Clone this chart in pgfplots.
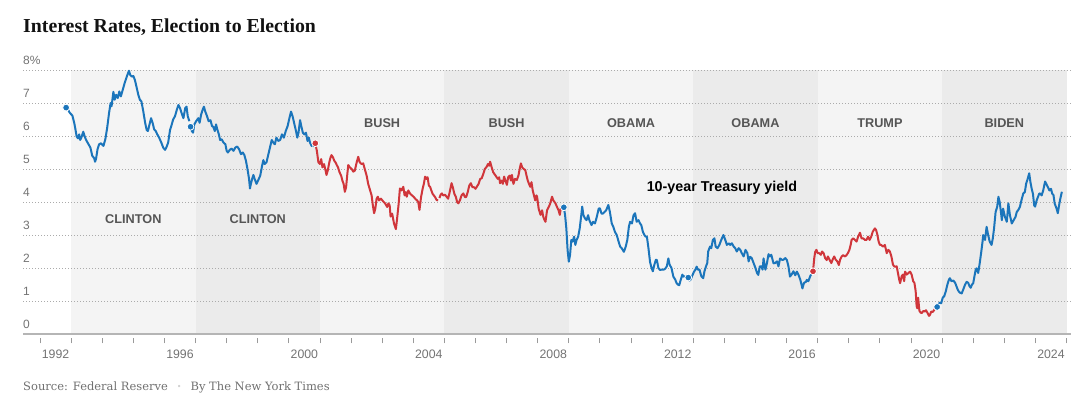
\documentclass[border=0pt]{standalone}
\usepackage{fontspec}
\setmainfont{Liberation Sans}
\newfontfamily\titlefont{Liberation Serif}
\newfontfamily\srcfont{DejaVu Serif}
\usepackage{pgfplots}
\pgfplotsset{compat=1.18}
\definecolor{dem}{HTML}{1B75BB}
\definecolor{rep}{HTML}{D0363B}
\definecolor{bandL}{HTML}{F4F4F4}
\definecolor{bandD}{HTML}{EBEBEB}
\definecolor{gridgray}{HTML}{ABABAB}
\definecolor{axisgray}{HTML}{B5B5B5}
\definecolor{tickgray}{HTML}{9A9A9A}
\definecolor{labgray}{HTML}{737373}
\definecolor{presgray}{HTML}{555555}
\definecolor{srcgray}{HTML}{707070}
\begin{document}
\begin{tikzpicture}
\begin{axis}[
  set layers,
  at={(23pt,65pt)}, anchor=south west,
  scale only axis, width=1048pt, height=264pt,
  xmin=1991.4535, xmax=2025.1443, ymin=0, ymax=8,
  axis lines*=left,
  x axis line style={draw=axisgray, line width=1.3pt},
  y axis line style={draw=none},
  tick align=inside,
  xtick={1992,...,2025}, xticklabel={\phantom{0}},
  extra x ticks={1992.5,1996.5,2000.5,2004.5,2008.5,2012.5,2016.5,2020.5,2024.5},
  extra x tick labels={1992,1996,2000,2004,2008,2012,2016,2020,2024},
  extra x tick style={major tick length=0pt, grid=none},
  major tick length=5pt,
  xtick style={draw=tickgray, line width=0.8pt, yshift=-9.5pt},
  xticklabel style={anchor=north, inner sep=0pt, yshift=-15.5pt, text=labgray, font=\fontsize{12.3}{14}\selectfont},
  ytick={0,...,8},
  yticklabels={0,1,2,3,4,5,6,7,8\%},
  ytick style={draw=none},
  yticklabel style={anchor=south west, inner sep=0pt, yshift=5pt, text=labgray, font=\fontsize{12}{14}\selectfont},
  /pgf/number format/assume math mode=true,
  ymajorgrids,
  major grid style={draw=gridgray, line width=0.9pt, dash pattern=on 0.9pt off 2.1pt},
  clip=false,
]
% term bands
\addplot[fill=bandL, draw=none, on layer=axis background] coordinates {(1993,8)(1997,8)} \closedcycle;
\addplot[fill=bandD, draw=none, on layer=axis background] coordinates {(1997,8)(2001,8)} \closedcycle;
\addplot[fill=bandL, draw=none, on layer=axis background] coordinates {(2001,8)(2005,8)} \closedcycle;
\addplot[fill=bandD, draw=none, on layer=axis background] coordinates {(2005,8)(2009,8)} \closedcycle;
\addplot[fill=bandL, draw=none, on layer=axis background] coordinates {(2009,8)(2013,8)} \closedcycle;
\addplot[fill=bandD, draw=none, on layer=axis background] coordinates {(2013,8)(2017,8)} \closedcycle;
\addplot[fill=bandL, draw=none, on layer=axis background] coordinates {(2017,8)(2021,8)} \closedcycle;
\addplot[fill=bandD, draw=none, on layer=axis background] coordinates {(2021,8)(2025,8)} \closedcycle;

\node[font=\bfseries\fontsize{12.7}{14}\selectfont, text=presgray] at (axis cs:1995,3.48) {CLINTON};
\node[font=\bfseries\fontsize{12.7}{14}\selectfont, text=presgray] at (axis cs:1999,3.48) {CLINTON};
\node[font=\bfseries\fontsize{12.7}{14}\selectfont, text=presgray] at (axis cs:2003,6.40) {BUSH};
\node[font=\bfseries\fontsize{12.7}{14}\selectfont, text=presgray] at (axis cs:2007,6.40) {BUSH};
\node[font=\bfseries\fontsize{12.7}{14}\selectfont, text=presgray] at (axis cs:2011,6.40) {OBAMA};
\node[font=\bfseries\fontsize{12.7}{14}\selectfont, text=presgray] at (axis cs:2015,6.40) {OBAMA};
\node[font=\bfseries\fontsize{12.7}{14}\selectfont, text=presgray] at (axis cs:2019,6.40) {TRUMP};
\node[font=\bfseries\fontsize{12.7}{14}\selectfont, text=presgray] at (axis cs:2023,6.40) {BIDEN};
\node[font=\bfseries\fontsize{14.3}{16}\selectfont, text=black, anchor=west, inner sep=0pt] at (axis cs:2011.50,4.42) {10-year Treasury yield};

% Clinton 1
\addplot[dem, line width=2pt, line join=round] coordinates {
(1992.84,6.86)(1992.90,6.80)(1992.96,6.70)(1993.04,6.62)(1993.10,6.40)(1993.13,6.25)(1993.18,5.98)(1993.22,5.93)(1993.26,6.05)(1993.29,5.88)
(1993.33,5.95)(1993.39,6.13)(1993.45,5.95)(1993.50,5.85)(1993.56,5.75)(1993.62,5.65)(1993.68,5.40)(1993.74,5.33)(1993.77,5.22)(1993.80,5.30)
(1993.85,5.60)(1993.90,5.75)(1993.96,5.78)(1994.04,5.70)(1994.10,5.90)(1994.16,6.25)(1994.22,6.70)(1994.27,7.00)(1994.30,6.90)(1994.36,7.34)
(1994.40,7.10)(1994.45,7.25)(1994.50,7.15)(1994.55,7.35)(1994.60,7.20)(1994.66,7.40)(1994.72,7.60)(1994.79,7.80)(1994.86,7.98)(1994.90,7.85)
(1994.95,7.80)(1995.00,7.82)(1995.05,7.70)(1995.10,7.50)(1995.16,7.25)(1995.21,7.10)(1995.26,7.05)(1995.32,6.75)(1995.38,6.40)(1995.43,6.18)
(1995.47,6.15)(1995.52,6.35)(1995.57,6.54)(1995.62,6.40)(1995.67,6.20)(1995.72,6.15)(1995.77,6.05)(1995.83,5.95)(1995.90,5.80)(1995.96,5.65)
(1996.02,5.58)(1996.06,5.65)(1996.12,5.80)(1996.18,6.18)(1996.22,6.30)(1996.28,6.50)(1996.34,6.60)(1996.40,6.80)(1996.45,6.94)(1996.50,6.85)
(1996.55,6.70)(1996.61,6.54)(1996.67,6.85)(1996.71,6.89)(1996.75,6.60)(1996.80,6.45)};
% Clinton 2
\addplot[dem, line width=2pt, line join=round] coordinates {
(1996.84,6.28)(1996.88,6.15)(1996.92,6.10)(1996.96,6.35)(1997.02,6.45)(1997.09,6.54)(1997.13,6.40)(1997.18,6.65)(1997.23,6.80)(1997.27,6.89)
(1997.31,6.75)(1997.37,6.60)(1997.42,6.45)(1997.48,6.48)(1997.53,6.30)(1997.57,6.28)(1997.62,6.15)(1997.66,6.35)(1997.70,6.20)(1997.75,6.05)
(1997.79,5.88)(1997.84,5.90)(1997.90,5.80)(1997.96,5.75)(1998.00,5.55)(1998.04,5.50)(1998.10,5.58)(1998.16,5.62)(1998.22,5.55)(1998.28,5.65)
(1998.34,5.68)(1998.40,5.60)(1998.46,5.45)(1998.52,5.50)(1998.57,5.42)(1998.62,5.25)(1998.67,5.00)(1998.72,4.70)(1998.75,4.41)(1998.78,4.55)
(1998.82,4.70)(1998.86,4.82)(1998.90,4.70)(1998.96,4.55)(1999.02,4.67)(1999.08,4.80)(1999.14,5.10)(1999.18,5.27)(1999.22,5.15)(1999.28,5.20)
(1999.33,5.40)(1999.38,5.60)(1999.45,5.88)(1999.50,5.80)(1999.55,5.75)(1999.60,5.95)(1999.66,5.85)(1999.72,5.88)(1999.78,6.05)(1999.84,5.95)
(1999.90,6.15)(1999.96,6.30)(2000.02,6.55)(2000.07,6.74)(2000.12,6.60)(2000.18,6.35)(2000.23,6.15)(2000.27,5.95)(2000.31,6.10)(2000.36,6.48)
(2000.40,6.30)(2000.45,6.10)(2000.50,6.05)(2000.55,6.10)(2000.60,5.85)(2000.64,5.95)(2000.68,5.80)(2000.73,5.70)(2000.78,5.75)(2000.82,5.68)};
% Bush 1
\addplot[rep, line width=2pt, line join=round] coordinates {
(2000.85,5.78)(2000.90,5.55)(2000.95,5.20)(2001.00,5.15)(2001.04,5.30)(2001.08,5.05)(2001.13,5.15)(2001.17,5.00)(2001.21,4.82)(2001.25,4.95)
(2001.30,5.20)(2001.34,5.35)(2001.37,5.42)(2001.42,5.35)(2001.46,5.25)(2001.50,5.20)(2001.54,5.12)(2001.58,5.05)(2001.63,4.90)(2001.68,4.80)
(2001.72,4.65)(2001.76,4.55)(2001.80,4.31)(2001.84,4.45)(2001.88,4.85)(2001.91,5.12)(2001.96,5.05)(2002.02,5.00)(2002.07,4.92)(2002.12,4.95)
(2002.18,5.20)(2002.23,5.37)(2002.28,5.20)(2002.34,5.15)(2002.39,5.17)(2002.44,5.00)(2002.50,4.80)(2002.55,4.55)(2002.61,4.36)(2002.66,4.20)
(2002.70,3.90)(2002.74,3.66)(2002.78,3.80)(2002.82,4.10)(2002.86,4.16)(2002.90,4.05)(2002.96,4.10)(2003.04,4.01)(2003.10,3.95)(2003.16,3.85)
(2003.20,3.96)(2003.24,3.90)(2003.27,3.56)(2003.32,3.65)(2003.38,3.35)(2003.44,3.18)(2003.48,3.50)(2003.53,3.95)(2003.57,4.41)(2003.62,4.35)
(2003.68,4.46)(2003.72,4.20)(2003.76,4.30)(2003.79,4.16)(2003.84,4.35)(2003.90,4.25)(2003.96,4.20)(2004.02,4.15)(2004.06,4.10)(2004.12,4.05)
(2004.16,4.00)(2004.20,3.76)(2004.25,4.15)(2004.30,4.40)(2004.34,4.55)(2004.38,4.77)(2004.42,4.70)(2004.46,4.75)(2004.50,4.50)(2004.54,4.46)
(2004.58,4.35)(2004.62,4.25)(2004.66,4.20)(2004.70,4.15)(2004.75,4.06)(2004.80,4.05)};
% Bush 2
\addplot[rep, line width=2pt, line join=round] coordinates {
(2004.84,4.12)(2004.88,4.22)(2004.92,4.26)(2004.96,4.20)(2005.02,4.22)(2005.07,4.16)(2005.12,4.10)(2005.17,4.30)(2005.23,4.57)(2005.27,4.45)
(2005.32,4.25)(2005.37,4.15)(2005.41,4.00)(2005.45,3.96)(2005.50,4.05)(2005.55,4.20)(2005.61,4.26)(2005.66,4.15)(2005.70,4.15)(2005.75,4.30)
(2005.80,4.50)(2005.85,4.57)(2005.90,4.45)(2005.95,4.45)(2006.00,4.40)(2006.04,4.46)(2006.10,4.55)(2006.15,4.70)(2006.20,4.72)(2006.25,4.85)
(2006.30,5.00)(2006.36,5.07)(2006.40,5.15)(2006.44,5.10)(2006.47,5.22)(2006.52,5.05)(2006.57,4.90)(2006.63,4.82)(2006.68,4.75)(2006.72,4.70)
(2006.76,4.75)(2006.79,4.57)(2006.84,4.65)(2006.88,4.55)(2006.92,4.77)(2006.96,4.65)(2007.01,4.52)(2007.05,4.75)(2007.10,4.80)(2007.14,4.65)
(2007.17,4.82)(2007.22,4.55)(2007.27,4.70)(2007.33,4.67)(2007.38,4.80)(2007.42,5.00)(2007.46,5.17)(2007.50,5.05)(2007.55,5.00)(2007.60,4.97)
(2007.64,4.80)(2007.68,4.65)(2007.72,4.55)(2007.76,4.46)(2007.80,4.60)(2007.84,4.35)(2007.88,4.20)(2007.92,4.05)(2007.96,4.20)(2007.98,4.16)
(2008.03,3.80)(2008.09,3.61)(2008.14,3.75)(2008.18,3.55)(2008.22,3.45)(2008.25,3.40)(2008.30,3.75)(2008.36,3.86)(2008.40,3.95)(2008.46,4.16)
(2008.50,4.05)(2008.54,4.00)(2008.57,3.96)(2008.62,3.85)(2008.67,3.75)(2008.71,3.61)(2008.75,3.85)(2008.79,3.86)};
% Obama 1
\addplot[dem, line width=2pt, line join=round] coordinates {
(2008.84,3.84)(2008.88,3.60)(2008.92,3.20)(2008.96,2.55)(2009.00,2.19)(2009.04,2.40)(2009.08,2.85)(2009.12,2.80)(2009.17,2.95)(2009.21,2.70)
(2009.25,2.85)(2009.30,2.95)(2009.35,3.20)(2009.40,3.60)(2009.43,3.86)(2009.47,3.60)(2009.52,3.50)(2009.57,3.45)(2009.62,3.60)(2009.66,3.45)
(2009.73,3.30)(2009.78,3.40)(2009.84,3.35)(2009.90,3.55)(2009.96,3.80)(2010.00,3.81)(2010.05,3.65)(2010.10,3.65)(2010.15,3.70)(2010.20,3.75)
(2010.27,3.91)(2010.32,3.70)(2010.38,3.35)(2010.43,3.25)(2010.48,3.10)(2010.54,3.00)(2010.60,2.80)(2010.65,2.65)(2010.70,2.60)(2010.77,2.49)
(2010.83,2.65)(2010.88,2.85)(2010.93,3.25)(2010.97,3.40)(2011.03,3.35)(2011.08,3.60)(2011.13,3.66)(2011.18,3.40)(2011.24,3.45)(2011.29,3.35)
(2011.33,3.30)(2011.38,3.10)(2011.43,3.00)(2011.47,2.95)(2011.51,2.95)(2011.56,2.60)(2011.61,2.19)(2011.66,2.00)(2011.70,1.90)(2011.75,2.10)
(2011.80,2.25)(2011.83,2.24)(2011.88,2.00)(2011.93,1.94)(2011.98,1.95)(2012.05,1.95)(2012.10,1.98)(2012.15,2.05)(2012.20,2.29)(2012.24,2.10)
(2012.30,2.00)(2012.36,1.74)(2012.42,1.65)(2012.46,1.55)(2012.50,1.50)(2012.55,1.48)(2012.60,1.65)(2012.65,1.80)(2012.68,1.74)(2012.74,1.75)
(2012.79,1.72)};
% Obama 2
\addplot[dem, line width=2pt, line join=round] coordinates {
(2012.84,1.71)(2012.88,1.62)(2012.92,1.65)(2012.96,1.75)(2013.02,1.88)(2013.07,1.95)(2013.11,2.04)(2013.15,1.95)(2013.20,1.95)(2013.26,1.75)
(2013.32,1.69)(2013.36,1.90)(2013.41,2.05)(2013.45,2.15)(2013.48,2.50)(2013.54,2.65)(2013.58,2.60)(2013.63,2.85)(2013.68,2.90)(2013.72,2.65)
(2013.78,2.60)(2013.84,2.70)(2013.90,2.85)(2013.97,3.00)(2014.03,2.85)(2014.08,2.70)(2014.14,2.75)(2014.19,2.70)(2014.24,2.75)(2014.30,2.65)
(2014.35,2.60)(2014.40,2.50)(2014.46,2.60)(2014.51,2.55)(2014.56,2.45)(2014.62,2.35)(2014.68,2.55)(2014.74,2.45)(2014.78,2.20)(2014.83,2.34)
(2014.88,2.30)(2014.94,2.15)(2015.00,2.00)(2015.05,1.85)(2015.09,1.79)(2015.14,2.05)(2015.19,2.05)(2015.23,1.95)(2015.26,2.29)(2015.32,1.95)
(2015.37,2.15)(2015.42,2.42)(2015.46,2.35)(2015.51,2.40)(2015.55,2.25)(2015.58,2.14)(2015.63,2.15)(2015.69,2.20)(2015.74,2.05)(2015.79,2.29)
(2015.85,2.25)(2015.90,2.25)(2015.96,2.30)(2016.01,2.24)(2016.06,2.05)(2016.11,1.74)(2016.16,1.80)(2016.22,1.90)(2016.28,1.78)(2016.33,1.89)
(2016.38,1.80)(2016.44,1.65)(2016.48,1.50)(2016.51,1.38)(2016.56,1.55)(2016.62,1.58)(2016.65,1.64)(2016.70,1.60)(2016.76,1.75)(2016.81,1.84)};
% Trump
\addplot[rep, line width=2pt, line join=round] coordinates {
(2016.85,1.90)(2016.89,2.30)(2016.92,2.49)(2016.96,2.55)(2017.00,2.45)(2017.05,2.45)(2017.10,2.40)(2017.14,2.50)(2017.19,2.45)(2017.24,2.30)
(2017.29,2.24)(2017.33,2.35)(2017.38,2.25)(2017.44,2.15)(2017.48,2.25)(2017.53,2.35)(2017.58,2.25)(2017.63,2.20)(2017.68,2.09)(2017.72,2.25)
(2017.77,2.35)(2017.82,2.39)(2017.87,2.35)(2017.92,2.38)(2017.97,2.45)(2018.02,2.55)(2018.06,2.70)(2018.09,2.85)(2018.14,2.90)(2018.20,2.85)
(2018.25,2.80)(2018.30,2.95)(2018.36,3.07)(2018.41,2.90)(2018.46,2.90)(2018.52,2.85)(2018.57,2.85)(2018.62,2.95)(2018.67,2.85)(2018.72,2.95)
(2018.77,3.10)(2018.84,3.20)(2018.88,3.15)(2018.92,3.00)(2018.96,2.80)(2019.00,2.70)(2019.04,2.70)(2019.10,2.65)(2019.16,2.70)(2019.22,2.45)
(2019.27,2.55)(2019.32,2.50)(2019.37,2.35)(2019.42,2.10)(2019.46,2.05)(2019.49,2.04)(2019.54,2.05)(2019.58,1.85)(2019.62,1.65)(2019.65,1.54)
(2019.70,1.75)(2019.74,1.80)(2019.78,1.60)(2019.81,1.89)(2019.86,1.80)(2019.92,1.85)(2019.97,1.89)(2020.02,1.80)(2020.07,1.60)(2020.11,1.55)
(2020.15,1.30)(2020.18,0.85)(2020.20,0.78)(2020.23,1.10)(2020.27,0.70)(2020.31,0.65)(2020.34,0.63)(2020.40,0.70)(2020.44,0.68)(2020.48,0.72)
(2020.53,0.64)(2020.58,0.55)(2020.61,0.58)(2020.65,0.68)(2020.70,0.67)(2020.74,0.72)(2020.78,0.78)};
% Biden
\addplot[dem, line width=2pt, line join=round] coordinates {
(2020.84,0.82)(2020.88,0.88)(2020.92,0.95)(2020.97,0.93)(2021.02,1.10)(2021.07,1.15)(2021.12,1.30)(2021.17,1.50)(2021.22,1.65)(2021.25,1.69)
(2021.30,1.60)(2021.36,1.62)(2021.42,1.55)(2021.46,1.45)(2021.50,1.35)(2021.54,1.28)(2021.58,1.25)(2021.63,1.23)(2021.68,1.35)(2021.74,1.50)
(2021.79,1.58)(2021.84,1.55)(2021.88,1.45)(2021.92,1.40)(2021.96,1.50)(2022.00,1.54)(2022.04,1.75)(2022.08,1.95)(2022.11,1.99)(2022.16,1.85)
(2022.21,2.15)(2022.26,2.50)(2022.30,2.80)(2022.32,3.00)(2022.38,2.85)(2022.43,3.25)(2022.48,3.00)(2022.53,2.80)(2022.59,2.70)(2022.63,2.90)
(2022.67,3.20)(2022.72,3.70)(2022.77,3.85)(2022.81,4.16)(2022.85,4.00)(2022.89,3.70)(2022.92,3.45)(2022.96,3.80)(2023.02,3.55)(2023.08,3.40)
(2023.13,3.96)(2023.18,3.60)(2023.24,3.35)(2023.30,3.45)(2023.36,3.55)(2023.40,3.70)(2023.45,3.76)(2023.50,3.85)(2023.55,4.05)(2023.61,4.26)
(2023.66,4.30)(2023.70,4.55)(2023.75,4.70)(2023.80,4.87)(2023.84,4.60)(2023.88,4.40)(2023.92,4.25)(2023.96,3.90)(2023.99,3.86)(2024.04,4.05)
(2024.08,4.15)(2024.12,4.25)(2024.15,4.26)(2024.20,4.20)(2024.25,4.35)(2024.31,4.62)(2024.35,4.55)(2024.40,4.45)(2024.45,4.35)(2024.50,4.40)
(2024.54,4.25)(2024.58,4.21)(2024.62,3.95)(2024.68,3.80)(2024.72,3.66)(2024.76,3.90)(2024.80,4.10)(2024.85,4.31)};
% election-day dots
\addplot[only marks, mark=*, mark size=3.4pt, mark options={fill=dem, draw=white, line width=0.8pt}] coordinates {(1992.84,6.86)(1996.84,6.28)(2008.84,3.84)(2012.84,1.71)(2020.84,0.82)};
\addplot[only marks, mark=*, mark size=3.4pt, mark options={fill=rep, draw=white, line width=0.8pt}] coordinates {(2000.85,5.78)(2016.85,1.90)};
\end{axis}
\node[anchor=base west, inner sep=0pt, font=\titlefont\bfseries\fontsize{19.8}{22}\selectfont, text=black!93] at (23pt,366.3pt) {Interest Rates, Election to Election};
\node[anchor=base west, inner sep=0pt, font=\srcfont\fontsize{11.5}{13}\selectfont, text=srcgray] at (23pt,9pt) {Source: Federal Reserve\hspace{9pt}{\color{black!18}\fontsize{8}{9}\selectfont\raisebox{1pt}{•}}\hspace{9pt}By The New York Times};
\path (0,0) rectangle (1087pt,399pt);
\end{tikzpicture}
\end{document}
